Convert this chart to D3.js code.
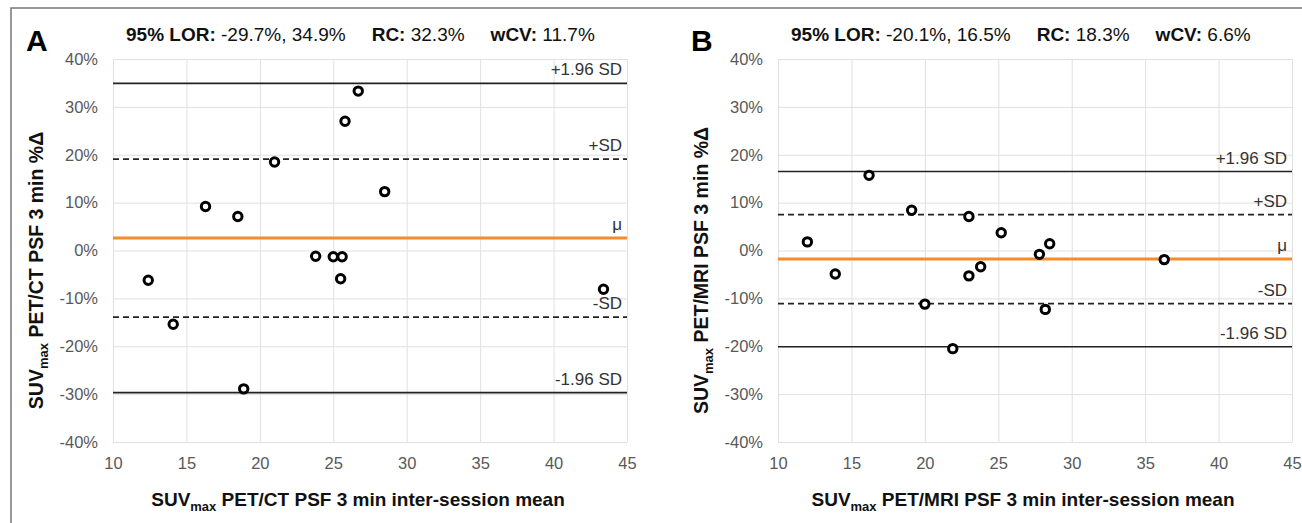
<!DOCTYPE html>
<html>
<head>
<meta charset="UTF-8">
<script src="https://d3js.org/d3.v7.min.js"></script>
<style>
  body { margin: 0; background: #fff; }
  svg { display: block; font-family: "Liberation Sans", Arial, sans-serif; }
  .tick text { fill: #595959; font-size: 16.5px; }
  .tick line { stroke: #e0e0e0; }
  .ref-label { fill: #333; font-size: 17px; }
</style>
</head>
<body>
<svg width="1302" height="523"></svg>
<script>
// axis ticks
const xTicks = [10, 15, 20, 25, 30, 35, 40, 45];
const yTicks = [-40, -30, -20, -10, 0, 10, 20, 30, 40];

// reference lines (+1.96 SD, +SD, mean, -SD, -1.96 SD)
const refNames = ["+1.96 SD", "+SD", "\u03bc", "-SD", "-1.96 SD"];
const refA = [34.9, 19.1, 2.6, -13.9, -29.7];
const refB = [16.5, 7.5, -1.8, -11.1, -20.1];

// panel A: PET/CT
const meanA = [12.4, 14.1, 16.3, 18.5, 18.9, 21.0, 23.8, 25.0, 25.6, 25.5, 25.8, 26.7, 28.5, 43.4];
const diffA = [-6.2, -15.4, 9.2, 7.1, -28.9, 18.5, -1.2, -1.3, -1.3, -5.9, 27.0, 33.3, 12.3, -8.1];

// panel B: PET/MRI
const meanB = [12.0, 13.9, 16.2, 19.1, 20.0, 21.9, 23.0, 23.0, 23.8, 25.2, 27.8, 28.2, 28.5, 36.3];
const diffB = [1.8, -4.9, 15.7, 8.4, -11.2, -20.5, 7.1, -5.3, -3.4, 3.7, -0.8, -12.3, 1.4, -1.9];

// header stats
const statsA = ["-29.7%, 34.9%", "32.3%", "11.7%"];
const statsB = ["-20.1%, 16.5%", "18.3%", "6.6%"];

const panels = [
  { letter: "A", left: 113, mean: meanA, diff: diffA, ref: refA, stats: statsA, modality: "PET/CT" },
  { letter: "B", left: 778, mean: meanB, diff: diffB, ref: refB, stats: statsB, modality: "PET/MRI" }
];

const plotTop = 59, W = 514, H = 383;
const svg = d3.select("svg");

// outer frame (top and left edges)
svg.append("path")
  .attr("d", "M11,523 V8 H1302")
  .attr("fill", "none")
  .attr("stroke", "#777")
  .attr("stroke-width", 1.5);

panels.forEach(p => {
  const x = d3.scaleLinear().domain([10, 45]).range([0, W]);
  const y = d3.scaleLinear().domain([-40, 40]).range([H, 0]);

  const g = svg.append("g").attr("transform", "translate(" + p.left + "," + plotTop + ")");

  // grid + tick labels
  g.append("g")
    .call(d3.axisLeft(y).tickValues(yTicks).tickFormat(d => d + "%").tickSize(-W).tickPadding(15))
    .call(a => a.select(".domain").remove());
  g.append("g")
    .attr("transform", "translate(0," + H + ")")
    .call(d3.axisBottom(x).tickValues(xTicks).tickSize(-H).tickPadding(15))
    .call(a => a.select(".domain").remove());
  g.selectAll("g > g").attr("font-family", null).attr("font-size", null);

  // reference lines
  g.selectAll(".ref")
    .data(p.ref)
    .enter()
    .append("line")
    .attr("class", "ref")
    .attr("x1", 0)
    .attr("x2", W)
    .attr("y1", d => y(d))
    .attr("y2", d => y(d))
    .attr("stroke", (d, i) => i == 2 ? "#f68b2c" : "#222")
    .attr("stroke-width", (d, i) => i == 2 ? 3 : 1.7)
    .attr("stroke-dasharray", (d, i) => (i == 1 || i == 3) ? "6,4" : null);

  g.selectAll(".ref-label")
    .data(p.ref)
    .enter()
    .append("text")
    .attr("class", "ref-label")
    .attr("x", W - 5)
    .attr("y", d => y(d) - 8)
    .attr("text-anchor", "end")
    .text((d, i) => refNames[i]);

  // points
  g.selectAll("circle")
    .data(p.mean)
    .enter()
    .append("circle")
    .attr("cx", d => x(d))
    .attr("cy", (d, i) => y(p.diff[i]))
    .attr("r", 4.2)
    .attr("fill", "#fff")
    .attr("stroke", "#000")
    .attr("stroke-width", 3);

  // panel letter
  svg.append("text")
    .attr("x", p.left - 87)
    .attr("y", 51)
    .attr("font-size", 30)
    .attr("font-weight", "bold")
    .text(p.letter);

  // stats header
  const t = svg.append("text")
    .attr("x", p.left + 13)
    .attr("y", 41)
    .attr("font-size", 19)
    .attr("fill", "#111");
  t.append("tspan").attr("font-weight", "bold").text("95% LOR: ");
  t.append("tspan").text(p.stats[0]);
  t.append("tspan").attr("dx", 26).attr("font-weight", "bold").text("RC: ");
  t.append("tspan").text(p.stats[1]);
  t.append("tspan").attr("dx", 26).attr("font-weight", "bold").text("wCV: ");
  t.append("tspan").text(p.stats[2]);

  // x axis title
  const xt = svg.append("text")
    .attr("x", p.left + W / 2 - 12)
    .attr("y", 506)
    .attr("text-anchor", "middle")
    .attr("font-size", 19)
    .attr("font-weight", "bold")
    .attr("fill", "#111");
  xt.append("tspan").text("SUV");
  xt.append("tspan").attr("font-size", 13).attr("dy", 5).text("max");
  xt.append("tspan").attr("dy", -5).text(" " + p.modality + " PSF 3 min inter-session mean");

  // y axis title
  const yt = svg.append("text")
    .attr("transform", "translate(" + (p.left - 70) + "," + (plotTop + H / 2 + 20) + ") rotate(-90)")
    .attr("text-anchor", "middle")
    .attr("font-size", 19.5)
    .attr("font-weight", "bold")
    .attr("fill", "#111");
  yt.append("tspan").text("SUV");
  yt.append("tspan").attr("font-size", 13).attr("dy", 5).text("max");
  yt.append("tspan").attr("dy", -5).text(" " + p.modality + " PSF 3 min %\u0394");
});
</script>
</body>
</html>
